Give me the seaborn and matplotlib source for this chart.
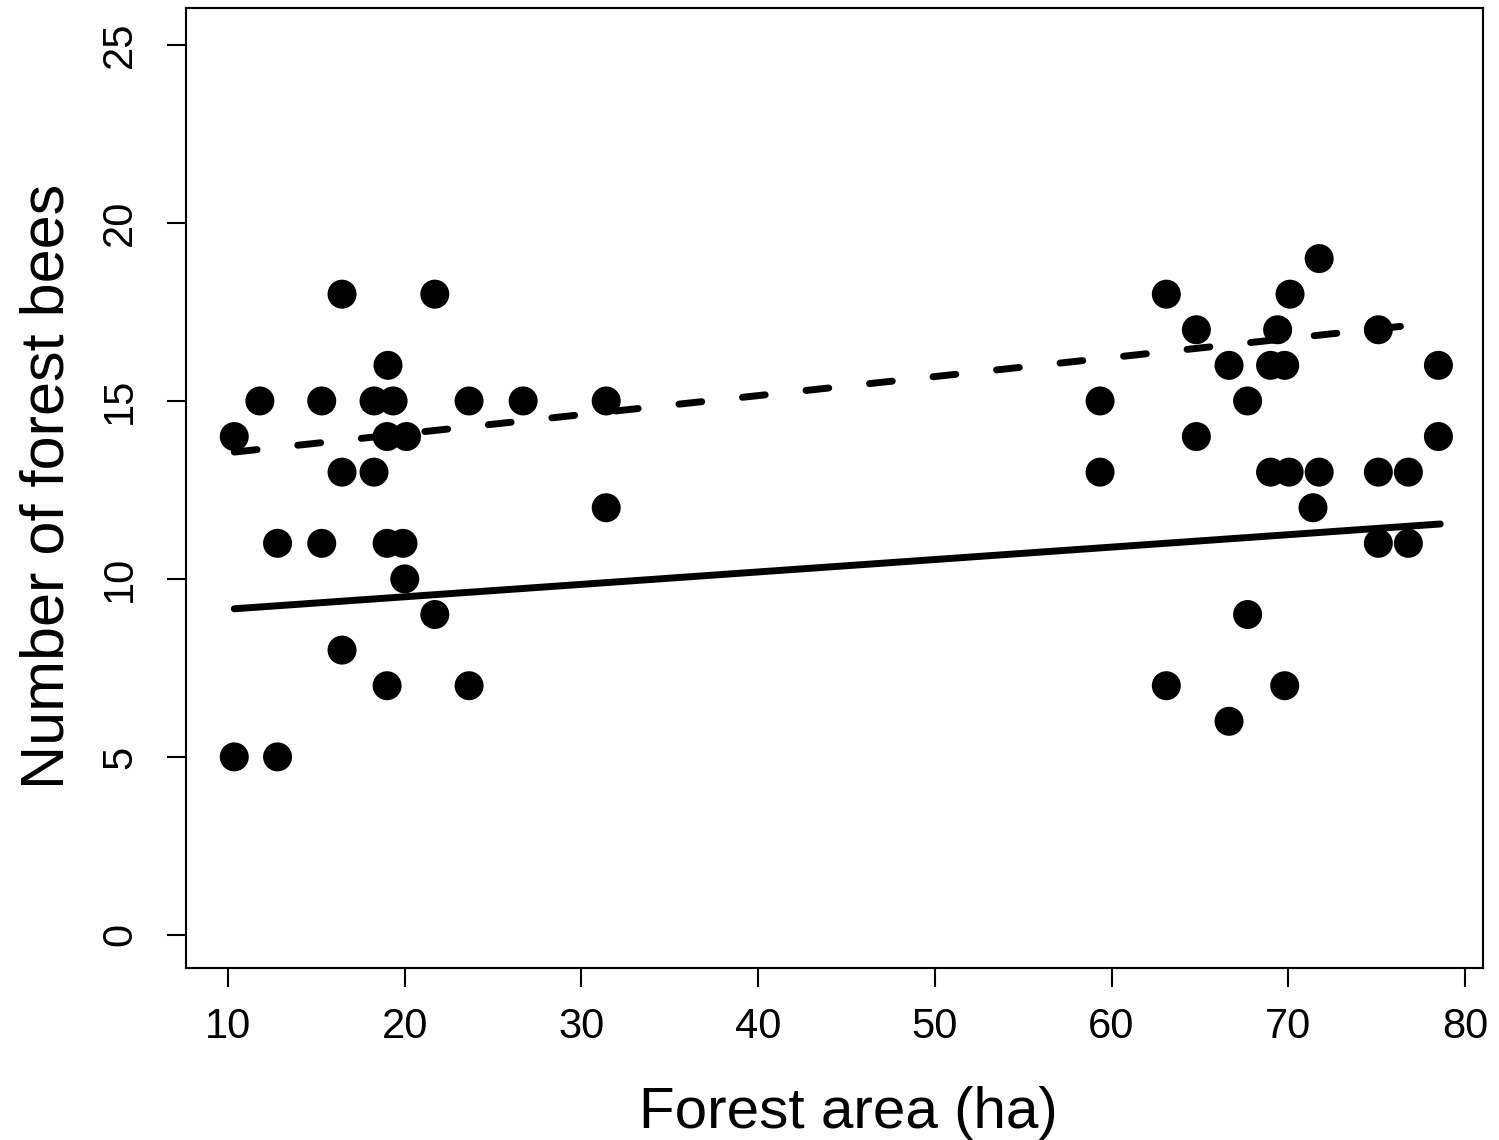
import numpy as np
import pandas as pd
import matplotlib
matplotlib.use("Agg")
import matplotlib.pyplot as plt
import seaborn as sns

# данные: площадь леса и число лесных пчёл
area = [10.35, 10.35, 11.8, 12.8, 12.8, 15.3, 15.3, 16.45, 16.45, 16.45,
        18.26, 18.26, 19.0, 19.0, 19.0, 19.05, 19.34, 19.9, 20.0, 20.1,
        21.7, 21.7, 23.64, 23.64, 26.7, 31.4, 31.4,
        59.35, 59.35, 63.1, 63.1, 64.8, 64.8, 66.65, 66.65, 67.7, 67.7,
        69.0, 69.0, 69.4, 69.8, 69.8, 70.05, 70.1, 71.4, 71.75, 71.75,
        75.1, 75.1, 75.1, 76.8, 76.8, 78.5, 78.5]
bees = [14, 5, 15, 11, 5, 15, 11, 18, 13, 8,
        15, 13, 14, 11, 7, 16, 15, 11, 10, 14,
        18, 9, 15, 7, 15, 15, 12,
        15, 13, 18, 7, 17, 14, 16, 6, 15, 9,
        16, 13, 17, 16, 7, 13, 18, 12, 19, 13,
        17, 13, 11, 13, 11, 16, 14]

# линии модели: (x начала, x конца, свободный член, наклон)
solid_fit = (10.35, 78.6, 8.80, 0.0349)
dashed_fit = (10.35, 76.7, 13.01, 0.0535)

x_ticks = [10, 20, 30, 40, 50, 60, 70, 80]
y_ticks = [0, 5, 10, 15, 20, 25]

df = pd.DataFrame({"area": area, "bees": bees})

def fit_line(p):
    xs = np.array([p[0], p[1]])
    return pd.DataFrame({"x": xs, "y": p[2] + p[3] * xs})

sns.set_style("ticks")
plt.rcParams['font.family'] = ['Liberation Sans', 'DejaVu Sans']

fig = plt.figure(figsize=(14.99, 11.4), dpi=100)
ax = fig.add_axes([0.1241, 0.1509, 0.8652, 0.8421])

sns.scatterplot(data=df, x="area", y="bees", color="black", s=436,
                edgecolor="none", ax=ax, zorder=3)
sns.lineplot(data=fit_line(solid_fit), x="x", y="y", color="black",
             linewidth=5, ax=ax)
sns.lineplot(data=fit_line(dashed_fit), x="x", y="y", color="black",
             linewidth=5, ax=ax)
ax.lines[0].set_solid_capstyle("round")
ax.lines[1].set_linestyle((0, (3.3, 5.9)))
ax.lines[1].set_dash_capstyle("round")

ax.set_xlim(7.62, 81.02)
ax.set_ylim(-0.93, 26.04)
ax.set_xticks(x_ticks)
ax.set_yticks(y_ticks)
ax.set_yticklabels([str(t) for t in y_ticks], rotation=90, va="center")

for s in ax.spines.values():
    s.set_linewidth(1.5)
    s.set_color("black")
ax.tick_params(axis="both", length=14, width=1.5, labelsize=30, colors="black")
ax.tick_params(axis="x", pad=14)
ax.tick_params(axis="y", pad=19)

ax.set_xlabel("Forest area (ha)", fontsize=42, color="black", va="baseline")
ax.set_ylabel("Number of forest bees", fontsize=44, color="black", va="baseline")
ax.xaxis.set_label_coords(0.5104, -0.1667)
ax.yaxis.set_label_coords(-0.0948, 0.5016)

fig.savefig("out.png", dpi=100)
